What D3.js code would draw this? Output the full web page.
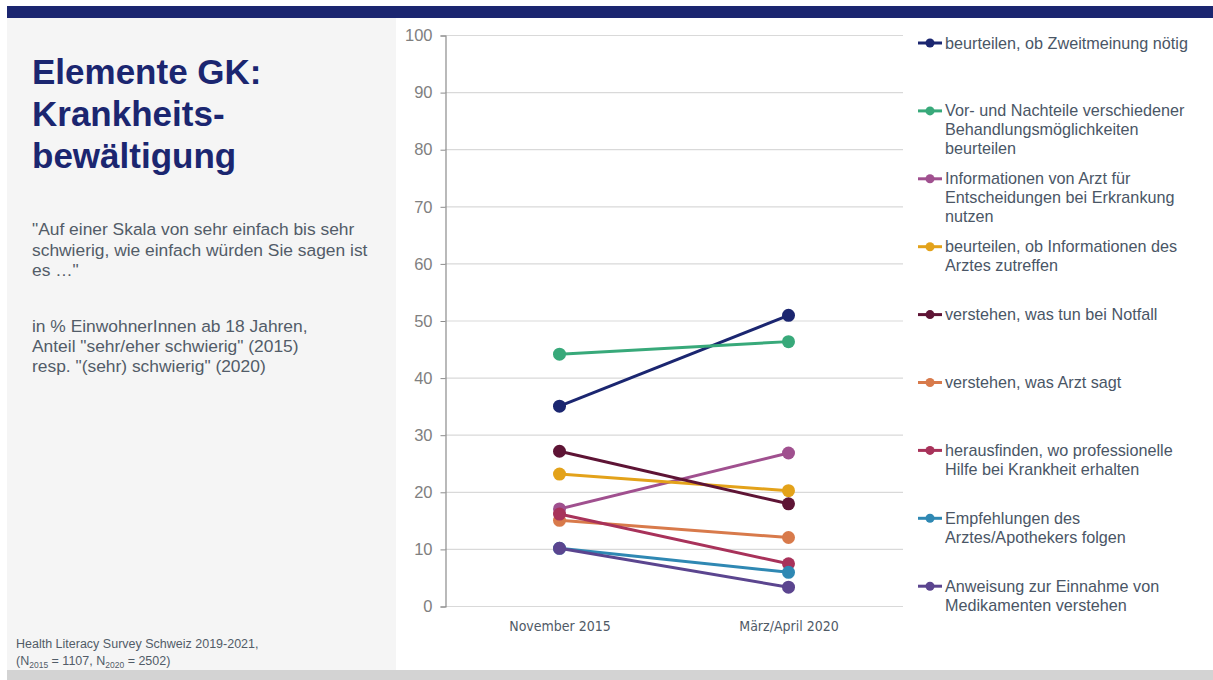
<!DOCTYPE html>
<html><head><meta charset="utf-8">
<script src="https://cdn.jsdelivr.net/npm/d3@7"></script>
<style>
html,body{margin:0;padding:0;background:#fff;}
svg{display:block;font-family:"Liberation Sans",Arial,sans-serif;}
</style></head><body>
<svg id="c" width="1213" height="680"></svg>
<script>
const periods = ["November 2015", "März/April 2020"];
const seriesNames = [
  "beurteilen, ob Zweitmeinung nötig",
  "Vor- und Nachteile verschiedener\nBehandlungsmöglichkeiten\nbeurteilen",
  "Informationen von Arzt für\nEntscheidungen bei Erkrankung\nnutzen",
  "beurteilen, ob Informationen des\nArztes zutreffen",
  "verstehen, was tun bei Notfall",
  "verstehen, was Arzt sagt",
  "herausfinden, wo professionelle\nHilfe bei Krankheit erhalten",
  "Empfehlungen des\nArztes/Apothekers folgen",
  "Anweisung zur Einnahme von\nMedikamenten verstehen"
];
const values2015 = [35.0, 44.1, 17.0, 23.1, 27.1, 15.0, 16.1, 10.1, 10.1];
const values2020 = [50.9, 46.3, 26.8, 20.2, 17.9, 12.0, 7.4, 5.9, 3.3];
const seriesColors = ["#1b2670", "#38a97a", "#a0508f", "#e3a21a", "#5e1435", "#d87a4b", "#a8325a", "#2f88b3", "#5b458f"];
const yTicks = [0, 10, 20, 30, 40, 50, 60, 70, 80, 90, 100];

const svg = d3.select("#c");

// background panels
svg.append("rect").attr("x", 7).attr("y", 6).attr("width", 1206).attr("height", 12).attr("fill", "#1b2670");
svg.append("rect").attr("x", 7).attr("y", 18).attr("width", 389).attr("height", 652).attr("fill", "#f5f5f5");
svg.append("rect").attr("x", 7).attr("y", 670).attr("width", 1206).attr("height", 10).attr("fill", "#d3d3d3");

// title
const title = svg.append("text").attr("x", 32).attr("y", 84)
  .attr("fill", "#1b2670").attr("font-size", 35).attr("font-weight", "bold");
["Elemente GK:", "Krankheits-", "bewältigung"].forEach((t, i) =>
  title.append("tspan").attr("x", 32).attr("y", 84 + i * 42).text(t));

// subtitle
const subLines = [
  ["\"Auf einer Skala von sehr einfach bis sehr", 235],
  ["schwierig, wie einfach würden Sie sagen ist", 256],
  ["es …\"", 276],
  ["in % EinwohnerInnen ab 18 Jahren,", 332],
  ["Anteil \"sehr/eher schwierig\" (2015)", 352],
  ["resp. \"(sehr) schwierig\" (2020)", 372]
];
subLines.forEach(([t, y]) => svg.append("text").attr("x", 32).attr("y", y)
  .attr("fill", "#525c68").attr("font-size", 17.4).text(t));

// footnote
svg.append("text").attr("x", 16).attr("y", 648).attr("fill", "#525c68").attr("font-size", 12.5)
  .text("Health Literacy Survey Schweiz 2019-2021,");
const fn = svg.append("text").attr("x", 16).attr("y", 665).attr("fill", "#525c68").attr("font-size", 12.5);
fn.append("tspan").text("(N");
fn.append("tspan").attr("font-size", 8.5).attr("dy", 3).text("2015");
fn.append("tspan").attr("dy", -3).text(" = 1107, N");
fn.append("tspan").attr("font-size", 8.5).attr("dy", 3).text("2020");
fn.append("tspan").attr("dy", -3).text(" = 2502)");

// scales
const x = d3.scalePoint().domain(periods).range([445, 903]).padding(0.5);
const y = d3.scaleLinear().domain([0, 100]).range([606, 35]);

// gridlines
svg.append("g").selectAll("line").data(yTicks).join("line")
  .attr("x1", 445).attr("x2", 903).attr("y1", d => y(d) + 0.5).attr("y2", d => y(d) + 0.5)
  .attr("stroke", "#d9d9d9").attr("stroke-width", 1.2);

// y axis
const yAxis = svg.append("g").attr("transform", "translate(445.5,0.5)")
  .call(d3.axisLeft(y).tickValues(yTicks).tickSize(5).tickPadding(8));
yAxis.select(".domain").attr("stroke", "#8c8c8c").attr("stroke-width", 1.2);
yAxis.selectAll(".tick line").attr("stroke", "#8c8c8c");
yAxis.selectAll(".tick text").attr("fill", "#808080").attr("font-size", 16.5)
  .attr("font-family", "Liberation Sans, Arial, sans-serif");

// x axis labels
const xAxis = svg.append("g").attr("transform", "translate(0,606)")
  .call(d3.axisBottom(x).tickSize(0).tickPadding(15));
xAxis.select(".domain").remove();
xAxis.selectAll(".tick text").attr("fill", "#505a66").attr("font-size", 14)
  .attr("font-family", "DejaVu Sans Condensed, DejaVu Sans, sans-serif")
  .attr("font-stretch", "condensed");

// series
const series = seriesNames.map((n, i) => ({
  name: n, color: seriesColors[i],
  pts: [{p: periods[0], v: values2015[i]}, {p: periods[1], v: values2020[i]}]
}));
const line = d3.line().x(d => x(d.p)).y(d => y(d.v));
const sg = svg.append("g").selectAll("g").data(series).join("g");
sg.append("path").attr("d", d => line(d.pts)).attr("fill", "none")
  .attr("stroke", d => d.color).attr("stroke-width", 3);
sg.selectAll("circle").data(d => d.pts.map(p => ({...p, color: d.color}))).join("circle")
  .attr("cx", d => x(d.p)).attr("cy", d => y(d.v)).attr("r", 6.5).attr("fill", d => d.color);

// legend
const lg = svg.append("g").selectAll("g").data(series).join("g")
  .attr("transform", (d, i) => `translate(918,${43 + i * 67.9})`);
lg.append("line").attr("x1", 0).attr("x2", 24).attr("y1", 0).attr("y2", 0)
  .attr("stroke", d => d.color).attr("stroke-width", 3);
lg.append("circle").attr("cx", 12).attr("cy", 0).attr("r", 4.5).attr("fill", d => d.color);
lg.append("text").attr("fill", "#4a5666").attr("font-size", 16.2)
  .each(function(d) {
    d.name.split("\n").forEach((t, j) => d3.select(this).append("tspan")
      .attr("x", 27).attr("y", 5.5 + j * 19).text(t));
  });
</script>
</body></html>
